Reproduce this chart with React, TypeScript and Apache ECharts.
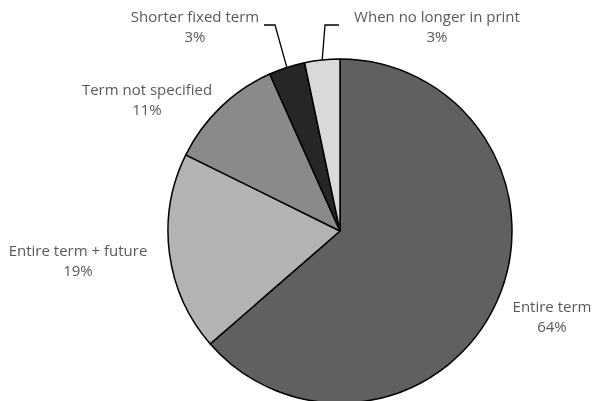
import React, { useEffect, useRef } from "react";
import * as echarts from "echarts";

const categories = [
  "Entire term",
  "Entire term + future",
  "Term not specified",
  "Shorter fixed term",
  "When no longer in print",
];
const shares = [63.6, 18.7, 11.0, 3.4, 3.3];
const colors = ["#606060", "#b3b3b3", "#8a8a8a", "#262626", "#d9d9d9"];
const labelAnchors = [
  [552, 316],
  [78, 260],
  [147, 99],
  [195, 26],
  [437, 26],
];

export default function App() {
  const ref = useRef<HTMLDivElement>(null);
  useEffect(() => {
    const chart = echarts.init(ref.current!, undefined, { renderer: "svg" });
    chart.setOption({
      animation: false,
      series: [
        {
          type: "pie",
          center: [340, 231],
          radius: 172,
          startAngle: 90,
          clockwise: true,
          avoidLabelOverlap: false,
          itemStyle: { borderColor: "#000", borderWidth: 1.5 },
          emphasis: { disabled: true },
          label: {
            show: true,
            position: "outside",
            formatter: (p: any) => `${p.name}\n${Math.round(p.value)}%`,
            fontFamily: "Open Sans",
            fontSize: 15,
            lineHeight: 20,
            color: "#595959",
            align: "center",
          },
          labelLine: { show: true, lineStyle: { color: "#000", width: 1.3 } },
          labelLayout: (p: any) => {
            const a = labelAnchors[p.dataIndex];
            const res: any = {
              x: a[0],
              y: a[1],
              align: "center",
              verticalAlign: "middle",
            };
            const pts = p.labelLinePoints;
            if (p.dataIndex === 3) {
              res.labelLinePoints = [pts ? pts[0] : [284, 65], [275, 25], [264, 25]];
            } else if (p.dataIndex === 4) {
              res.labelLinePoints = [pts ? pts[0] : [322, 57], [325, 25], [339, 25]];
            }
            return res;
          },
          data: categories.map((name, i) => ({
            name,
            value: shares[i],
            itemStyle: { color: colors[i] },
            labelLine: { show: i >= 3 },
          })),
        },
      ],
    });
    return () => chart.dispose();
  }, []);
  return (
    <div
      ref={ref}
      style={{ position: "fixed", left: 0, top: 0, width: 594, height: 401 }}
    />
  );
}
